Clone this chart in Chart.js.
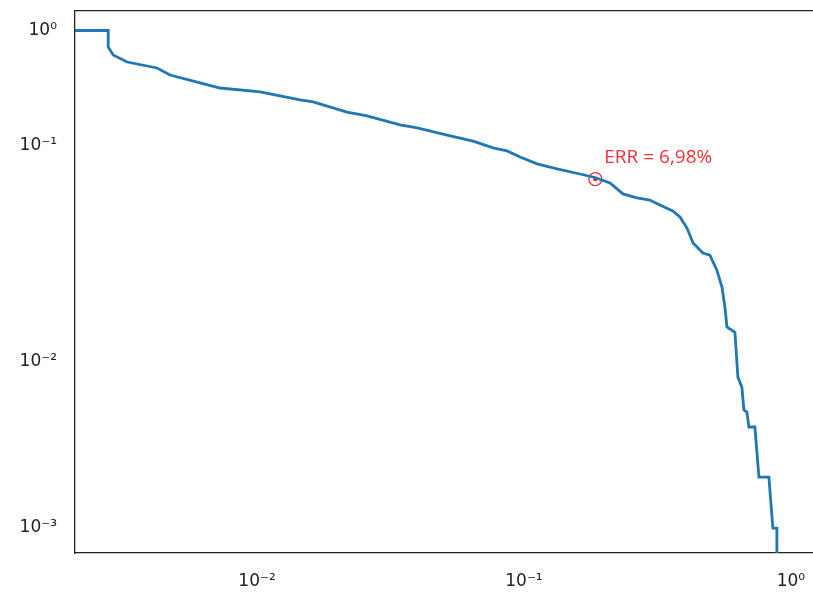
<!DOCTYPE html>
<html>
<head>
<meta charset="utf-8">
<title>DET curve</title>
<script src="https://cdn.jsdelivr.net/npm/chart.js@4/dist/chart.umd.min.js"></script>
<style>
  html, body { margin: 0; padding: 0; background: #fff; }
  #wrap { width: 813px; height: 594px; }
</style>
</head>
<body>
<div id="wrap"><canvas id="detChart" width="813" height="594"></canvas></div>
<script>
// Curve points (x = false accept rate, y = false reject rate)
const X_VALUES = [0.002, 0.00277, 0.00277, 0.00289, 0.00326, 0.00422, 0.00472, 0.00612, 0.00727, 0.01026,
    0.01449, 0.01622, 0.02173, 0.02583, 0.03434, 0.0398, 0.0515, 0.0645, 0.0766, 0.0864,
    0.0967, 0.112, 0.133, 0.162, 0.1845, 0.210, 0.235, 0.265, 0.296, 0.323,
    0.361, 0.384, 0.408, 0.430, 0.468, 0.497, 0.528, 0.552, 0.566, 0.576,
    0.617, 0.633, 0.655, 0.667, 0.684, 0.696, 0.733, 0.759, 0.827, 0.856,
    0.886, 0.886];
const Y_VALUES = [1.0, 1.0, 0.719, 0.612, 0.532, 0.472, 0.410, 0.350, 0.316, 0.292,
    0.249, 0.239, 0.195, 0.181, 0.151, 0.142, 0.123, 0.109, 0.0974, 0.0943,
    0.0884, 0.0821, 0.0778, 0.0737, 0.0710, 0.0670, 0.0596, 0.0571, 0.0558, 0.0529,
    0.0497, 0.0466, 0.0414, 0.0353, 0.0317, 0.0310, 0.0264, 0.0220, 0.0178, 0.0144,
    0.0136, 0.00802, 0.00698, 0.00509, 0.00495, 0.00403, 0.00403, 0.00202, 0.00202, 0.0010,
    0.0010, 0.0005];

// Equal error rate marker
const ERR_X = 0.185;
const ERR_Y = 0.0698;
const ERR_LABEL = 'ERR = 6,98%';

// Tick labels
const X_TICKS = [0.01, 0.1, 1];
const X_TICK_LABELS = ['10⁻²', '10⁻¹', '10⁰'];
const Y_TICKS = [0.001, 0.01, 0.1, 1];
const Y_TICK_LABELS = ['10⁻³', '10⁻²', '10⁻¹', '10⁰'];

// The reference y axis does not space its decades evenly, so the log scale is
// bent piecewise: decade -> fraction of axis height measured from the bottom.
const Y_DECADES = [-3, -2, -1, 0];
const Y_STOPS = [0.046, 0.354, 0.752, 0.964];

function warp(lg) {
    let i = 0;
    while (i < Y_DECADES.length - 2 && lg > Y_DECADES[i + 1]) i++;
    const t = (lg - Y_DECADES[i]) / (Y_DECADES[i + 1] - Y_DECADES[i]);
    return Y_STOPS[i] + t * (Y_STOPS[i + 1] - Y_STOPS[i]);
}

function unwarp(dec) {
    let i = 0;
    while (i < Y_STOPS.length - 2 && dec > Y_STOPS[i + 1]) i++;
    const t = (dec - Y_STOPS[i]) / (Y_STOPS[i + 1] - Y_STOPS[i]);
    return Y_DECADES[i] + t * (Y_DECADES[i + 1] - Y_DECADES[i]);
}

const LogScale = Chart.registry.getScale('logarithmic');

class WarpedLogScale extends LogScale {
    getPixelForValue(value) {
        if (value === null || value === undefined || isNaN(value) || value <= 0) return NaN;
        return this.getPixelForDecimal(warp(Math.log10(value)));
    }
    getValueForPixel(pixel) {
        return Math.pow(10, unwarp(this.getDecimalForPixel(pixel)));
    }
}
WarpedLogScale.id = 'warpedLog';
WarpedLogScale.defaults = LogScale.defaults;
Chart.register(WarpedLogScale);

const curvePoints = X_VALUES.map((x, i) => ({ x: x, y: Y_VALUES[i] }));

// fixed axis boxes, and no extra room for overhanging tick labels
function fixBox(w, h) {
    return (s) => {
        if (w !== null) s.width = w;
        if (h !== null) s.height = h;
        s.paddingTop = s.paddingBottom = s.paddingLeft = s.paddingRight = 0;
    };
}

// Draws the red "ERR = ..." note next to the marker
const errLabelPlugin = {
    id: 'errLabel',
    afterDatasetsDraw(chart) {
        const px = chart.scales.x.getPixelForValue(ERR_X);
        const py = chart.scales.y.getPixelForValue(ERR_Y);
        const ctx = chart.ctx;
        ctx.save();
        ctx.fillStyle = '#f0323c';
        ctx.font = '19px "Open Sans", sans-serif';
        ctx.textAlign = 'left';
        ctx.textBaseline = 'middle';
        ctx.fillText(ERR_LABEL, px + 9, py - 22);
        ctx.restore();
    }
};

const tickFont = { family: '"DejaVu Sans", sans-serif', size: 17 };

new Chart(document.getElementById('detChart'), {
    type: 'scatter',
    data: {
        datasets: [
            {
                data: curvePoints,
                showLine: true,
                borderColor: '#1f77b4',
                borderWidth: 2.8,
                pointRadius: 0,
                tension: 0
            },
            {
                data: [{ x: ERR_X, y: ERR_Y }],
                pointRadius: 6.5,
                pointBorderWidth: 1.3,
                pointBorderColor: '#f0323c',
                pointBackgroundColor: 'rgba(0,0,0,0)'
            },
            {
                data: [{ x: ERR_X, y: ERR_Y }],
                pointRadius: 2.2,
                pointBorderWidth: 0,
                pointBackgroundColor: '#e8202c'
            }
        ]
    },
    options: {
        responsive: false,
        animation: false,
        layout: { autoPadding: false, padding: { top: 11, right: 0, bottom: 0, left: 0 } },
        plugins: {
            legend: { display: false },
            tooltip: { enabled: false }
        },
        scales: {
            x: {
                type: 'logarithmic',
                position: 'bottom',
                min: 0.00208,
                max: 1.21,
                grid: { display: false, drawTicks: false },
                border: { display: true, color: '#222', width: 1.3 },
                afterBuildTicks: (s) => { s.ticks = X_TICKS.map(v => ({ value: v })); },
                afterFit: fixBox(null, 41),
                ticks: {
                    padding: 18,
                    color: '#222',
                    font: tickFont,
                    maxRotation: 0,
                    autoSkip: false,
                    callback: (v) => X_TICK_LABELS[X_TICKS.indexOf(v)]
                }
            },
            xTop: {
                type: 'linear',
                position: 'top',
                min: 0,
                max: 1,
                grid: { display: false, drawTicks: false },
                border: { display: true, color: '#222', width: 1.3 },
                ticks: { display: false },
                afterFit: fixBox(null, 0)
            },
            y: {
                type: 'warpedLog',
                position: 'left',
                min: 0.0007,
                max: 1.5,
                grid: { display: false, drawTicks: false },
                border: { display: true, color: '#222', width: 1.3 },
                afterBuildTicks: (s) => { s.ticks = Y_TICKS.map(v => ({ value: v })); },
                afterFit: fixBox(75, null),
                ticks: {
                    padding: 18,
                    color: '#222',
                    font: tickFont,
                    autoSkip: false,
                    callback: (v) => Y_TICK_LABELS[Y_TICKS.indexOf(v)]
                }
            }
        }
    },
    plugins: [errLabelPlugin]
});
</script>
</body>
</html>
